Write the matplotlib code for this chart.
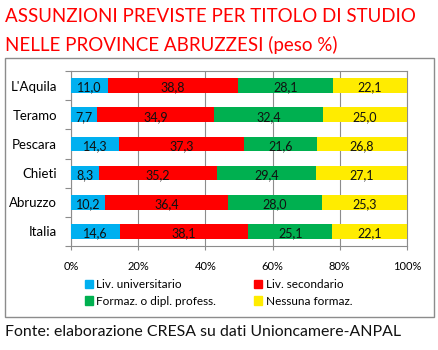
import matplotlib
matplotlib.use("Agg")
from matplotlib import pyplot as plt
from matplotlib.patches import Rectangle, Patch

plt.rcParams['font.family'] = ['Lato', 'DejaVu Sans']

# Dati (peso %)
areas = ["L'Aquila", "Teramo", "Pescara", "Chieti", "Abruzzo", "Italia"]
universitario = [11.0, 7.7, 14.3, 8.3, 10.2, 14.6]
secondario = [38.8, 34.9, 37.3, 35.2, 36.4, 38.1]
formaz_prof = [28.1, 32.4, 21.6, 29.4, 28.0, 25.1]
nessuna = [22.1, 25.0, 26.8, 27.1, 25.3, 22.1]

series_names = ["Liv. universitario", "Liv. secondario",
                "Formaz. o dipl. profess.", "Nessuna formaz."]
series_vals = [universitario, secondario, formaz_prof, nessuna]
colors = ["#00B0F0", "#FF0000", "#00B050", "#FFEC00"]
x_ticks = [0, 20, 40, 60, 80, 100]

W, H = 438, 350
fig = plt.figure(figsize=(W / 100, H / 100), dpi=100)

# cornice del grafico
fig.patches.append(Rectangle((5 / W, 1 - 317 / H), 429 / W, 259 / H,
                             transform=fig.transFigure, fill=False,
                             edgecolor="#8c8c8c", linewidth=1.0))

ax = fig.add_axes([71 / W, 1 - 246 / H, 336 / W, 175 / H])

ypos = list(range(len(areas)))
left = [0.0] * len(areas)
for name, vals, col in zip(series_names, series_vals, colors):
    ax.barh(ypos, vals, left=left, height=0.5, color=col, label=name,
            edgecolor="none", zorder=3)
    for y, l, v in zip(ypos, left, vals):
        ax.text(l + v / 2, y + 0.07, ("%.1f" % v).replace(".", ","),
                ha="center", va="center", fontsize=9, color="#111111",
                zorder=4)
    left = [a + b for a, b in zip(left, vals)]

ax.set_xlim(0, 100)
ax.set_ylim(len(areas) - 0.5, -0.5)
ax.set_xticks(x_ticks)
ax.set_xticklabels(["%d%%" % t for t in x_ticks], fontsize=8)
ax.set_yticks(ypos)
ax.set_yticklabels(areas, fontsize=9.5)
ax.set_yticks([i + 0.5 for i in range(-1, len(areas))], minor=True)
ax.tick_params(axis="y", which="major", length=0, pad=10)
ax.tick_params(axis="y", which="minor", length=4, color="#8c8c8c", width=0.8)
ax.tick_params(axis="x", length=3, color="#8c8c8c", width=0.8, pad=8)
ax.grid(axis="x", color="#8c8c8c", linewidth=0.8, zorder=1)
for s in ax.spines.values():
    s.set_color("#8c8c8c")
    s.set_linewidth(0.8)

handles = [Patch(color=c) for c in colors]
order = [0, 2, 1, 3]
fig.legend([handles[i] for i in order], [series_names[i] for i in order],
           loc="center left", bbox_to_anchor=(74 / W, 1 - 293 / H), ncol=2,
           frameon=False, fontsize=8.5, handlelength=0.7, handleheight=0.7,
           handletextpad=0.3, columnspacing=3.2, labelspacing=0.45)

fig.text(5 / W, 1 - 17 / H, "ASSUNZIONI PREVISTE PER TITOLO DI STUDIO",
         color="#FF0000", fontsize=13.5, va="center", ha="left")
fig.text(5 / W, 1 - 45 / H, "NELLE PROVINCE ABRUZZESI (peso %)",
         color="#FF0000", fontsize=13.5, va="center", ha="left")
fig.text(5 / W, 1 - 332 / H, "Fonte: elaborazione CRESA su dati Unioncamere-ANPAL",
         color="#111111", fontsize=11.4, va="center", ha="left")

fig.savefig("out.png", dpi=100)
